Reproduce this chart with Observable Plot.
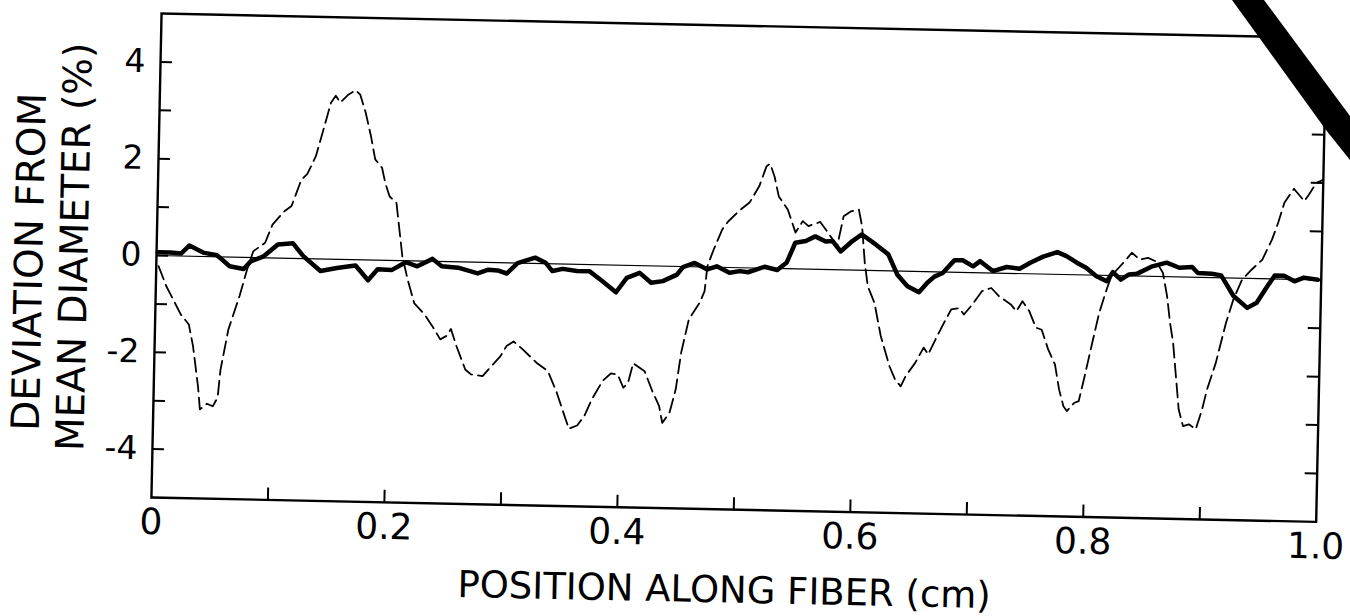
<!DOCTYPE html>
<html><head><meta charset="utf-8">
<script src="https://cdn.jsdelivr.net/npm/d3@7"></script>
<script src="https://cdn.jsdelivr.net/npm/@observablehq/plot@0.6"></script>
<style>
html,body{margin:0;padding:0;background:#fff;overflow:hidden}
#wrap{position:absolute;left:0;top:0;width:1350px;height:616px;transform:rotate(1.2deg);transform-origin:156px 255px}
#scan{position:absolute;left:0;top:0}
</style></head><body><div id="wrap"></div>
<svg id="scan" width="1350" height="616"><polygon points="1262,0 1350,0 1350,118" fill="#fff"/><polygon points="1232,0 1264,0 1350,116 1350,160 1326,130" fill="#000"/></svg>
<script>
// thick solid trace
const solidX = [0.001,0.012,0.021,0.028,0.040,0.052,0.063,0.075,0.081,0.092,0.104,0.117,0.126,0.141,0.155,0.166,0.171,0.182,0.190,0.202,0.214,0.224,0.237,0.245,0.259,0.276,0.285,0.293,0.301,0.310,0.325,0.334,0.340,0.349,0.361,0.372,0.381,0.395,0.404,0.415,0.425,0.435,0.447,0.452,0.462,0.473,0.481,0.492,0.501,0.508,0.522,0.533,0.541,0.548,0.557,0.565,0.574,0.580,0.587,0.597,0.605,0.617,0.628,0.636,0.645,0.655,0.662,0.668,0.675,0.685,0.692,0.701,0.707,0.718,0.730,0.741,0.750,0.761,0.773,0.781,0.790,0.798,0.807,0.816,0.821,0.828,0.835,0.842,0.854,0.867,0.878,0.889,0.894,0.906,0.914,0.925,0.937,0.945,0.954,0.960,0.968,0.977,0.985,0.997];
const solidY = [0.07,0.07,0.05,0.22,0.08,0.03,-0.19,-0.24,-0.08,0.03,0.28,0.31,0.05,-0.25,-0.18,-0.14,-0.12,-0.42,-0.19,-0.2,-0.03,-0.11,0.05,-0.1,-0.12,-0.23,-0.15,-0.16,-0.22,0.0,0.12,0.02,-0.15,-0.1,-0.14,-0.14,-0.3,-0.56,-0.26,-0.15,-0.35,-0.31,-0.17,-0.01,0.08,-0.05,0.02,-0.11,-0.07,-0.09,0.03,-0.03,0.13,0.54,0.58,0.68,0.58,0.59,0.38,0.6,0.74,0.54,0.34,-0.07,-0.31,-0.43,-0.23,-0.1,-0.02,0.25,0.25,0.13,0.24,0.04,0.13,0.1,0.23,0.36,0.46,0.38,0.25,0.15,-0.02,-0.12,0.07,-0.08,0.03,0.05,0.2,0.29,0.19,0.21,0.09,0.08,0.05,-0.37,-0.61,-0.5,-0.15,0.07,0.07,-0.04,0.04,0.0];
// thin dashed trace
const dashX = [0.002,0.009,0.022,0.029,0.033,0.038,0.040,0.046,0.051,0.055,0.057,0.063,0.072,0.078,0.083,0.093,0.099,0.109,0.115,0.123,0.128,0.135,0.141,0.147,0.151,0.155,0.162,0.168,0.172,0.177,0.182,0.186,0.192,0.195,0.199,0.205,0.208,0.211,0.216,0.222,0.231,0.238,0.245,0.250,0.254,0.259,0.267,0.272,0.282,0.288,0.297,0.302,0.308,0.316,0.328,0.334,0.338,0.346,0.352,0.357,0.364,0.370,0.376,0.385,0.392,0.398,0.403,0.407,0.411,0.421,0.428,0.434,0.437,0.443,0.448,0.452,0.458,0.467,0.471,0.473,0.478,0.485,0.490,0.499,0.508,0.516,0.522,0.525,0.529,0.533,0.541,0.545,0.548,0.554,0.559,0.569,0.576,0.584,0.589,0.595,0.602,0.605,0.608,0.611,0.617,0.623,0.631,0.636,0.641,0.645,0.653,0.660,0.664,0.670,0.677,0.683,0.690,0.694,0.701,0.709,0.717,0.724,0.734,0.739,0.744,0.750,0.756,0.761,0.767,0.773,0.777,0.781,0.784,0.790,0.794,0.798,0.804,0.810,0.816,0.820,0.827,0.831,0.837,0.844,0.851,0.858,0.864,0.868,0.871,0.874,0.877,0.880,0.884,0.889,0.895,0.900,0.904,0.911,0.919,0.925,0.932,0.940,0.949,0.957,0.962,0.967,0.975,0.979,0.984,0.988,0.994,1.0];
const dashY = [-0.22,-0.63,-1.21,-1.41,-1.86,-2.69,-3.16,-3.04,-3.09,-2.91,-2.33,-1.5,-0.8,-0.25,0.13,0.31,0.69,0.97,1.08,1.63,1.75,2.12,2.67,3.23,3.38,3.24,3.41,3.5,3.41,3.04,2.55,2.08,1.91,1.6,1.32,1.19,0.64,0.09,-0.39,-0.87,-1.1,-1.34,-1.61,-1.54,-1.39,-1.74,-2.22,-2.32,-2.35,-2.18,-1.93,-1.72,-1.62,-1.78,-2.05,-2.15,-2.22,-2.66,-3.07,-3.4,-3.33,-3.13,-2.79,-2.4,-2.24,-2.26,-2.53,-2.42,-2.02,-2.18,-2.59,-2.89,-3.24,-3.03,-2.54,-1.78,-1.09,-0.74,-0.5,0.02,0.36,0.78,0.95,1.17,1.35,1.69,2.11,2.16,1.9,1.49,1.22,0.95,0.75,0.99,0.89,0.98,0.76,0.49,1.11,1.21,1.25,0.91,0.15,-0.33,-0.67,-1.35,-1.97,-2.24,-2.38,-2.17,-1.89,-1.57,-1.71,-1.4,-1.05,-0.77,-0.74,-0.87,-0.66,-0.38,-0.31,-0.48,-0.64,-0.78,-0.57,-0.77,-1.11,-1.15,-1.56,-1.86,-2.38,-2.72,-2.82,-2.65,-2.61,-2.17,-1.47,-0.78,-0.29,0.0,0.19,0.3,0.48,0.34,0.38,0.31,0.08,-0.4,-0.95,-1.36,-2.05,-2.74,-3.08,-3.04,-3.14,-2.73,-2.31,-1.76,-0.93,-0.44,-0.03,0.18,0.39,0.81,1.16,1.58,1.87,1.76,1.62,1.76,2.0,2.07];

const xTicks = [0, 0.2, 0.4, 0.6, 0.8, 1.0];
const xTickLabels = ["0", "0.2", "0.4", "0.6", "0.8", "1.0"];
const xMinorTicks = [0.1, 0.2, 0.3, 0.4, 0.5, 0.6, 0.7, 0.8, 0.9];
const yTicks = [4, 2, 0, -2, -4];
const yTickLabels = ["4", "2", "0", "-2", "-4"];
const yMinorTicks = [-4, -3, -2, -1, 0, 1, 2, 3, 4];
const xTitle = "POSITION ALONG FIBER (cm)";
const yTitle1 = "DEVIATION FROM";
const yTitle2 = "MEAN DIAMETER (%)";

const solid = solidX.map((x, i) => ({x, y: solidY[i]}));
const dashed = dashX.map((x, i) => ({x, y: dashY[i]}));

const W = 1350, H = 616, ML = 156, MR = 29, MT = 13, MB = 119;
const PW = W - ML - MR, PH = H - MT - MB, TICK = 12;

const chart = Plot.plot({
  width: W, height: H,
  marginLeft: ML, marginRight: MR, marginTop: MT, marginBottom: MB,
  style: {fontFamily: "DejaVu Sans", background: "white", color: "black", overflow: "visible"},
  x: {domain: [0, 1]},
  y: {domain: [-5, 5]},
  marks: [
    Plot.ruleY([0], {stroke: "black", strokeWidth: 1.2}),
    Plot.line(dashed, {x: "x", y: "y", stroke: "black", strokeWidth: 1.8, strokeDasharray: "14,6"}),
    Plot.line(solid, {x: "x", y: "y", stroke: "black", strokeWidth: 4.5, strokeLinejoin: "round", strokeLinecap: "round"}),
    Plot.frame({stroke: "black", strokeWidth: 2.4}),
    Plot.tickX(xMinorTicks, {x: d => d, stroke: "black", strokeWidth: 2, insetTop: PH - TICK}),
    Plot.tickY(yMinorTicks, {y: d => d, stroke: "black", strokeWidth: 2, insetRight: PW - TICK}),
    Plot.tickY(yMinorTicks, {y: d => d, stroke: "black", strokeWidth: 2, insetLeft: PW - TICK}),
    Plot.axisX(xTicks, {anchor: "bottom", tickSize: 0, tickPadding: 11, fontSize: 36, label: null,
      tickFormat: d => xTickLabels[xTicks.indexOf(d)]}),
    Plot.axisY(yTicks, {anchor: "left", tickSize: 0, tickPadding: 15, fontSize: 33, label: null,
      tickFormat: d => yTickLabels[yTicks.indexOf(d)]}),
    Plot.text([xTitle], {text: d => d, frameAnchor: "bottom", lineAnchor: "bottom", textAnchor: "middle", dx: -8, dy: 93, fontSize: 37}),
    Plot.text([yTitle1], {text: d => d, frameAnchor: "left", rotate: -90, lineAnchor: "bottom", textAnchor: "middle", dx: -114, dy: 9, fontSize: 39}),
    Plot.text([yTitle2], {text: d => d, frameAnchor: "left", rotate: -90, lineAnchor: "bottom", textAnchor: "middle", dx: -69, dy: -7, fontSize: 39})
  ]
});
document.getElementById("wrap").appendChild(chart);
</script></body></html>
